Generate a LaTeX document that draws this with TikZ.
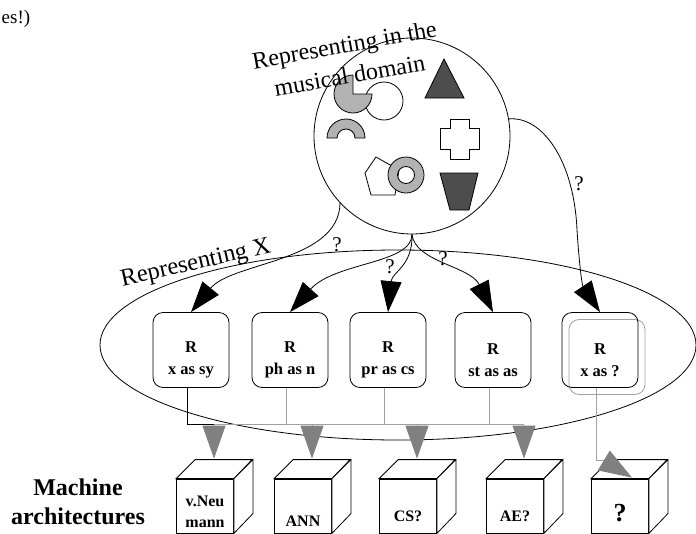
\documentclass[tikz,border=0pt]{standalone}
\usepackage{fontspec}
\setmainfont{Liberation Serif}
\usetikzlibrary{arrows.meta,positioning,calc}
\definecolor{ShapeGrey}{RGB}{178,178,178}
\definecolor{ShapeDark}{RGB}{77,77,77}
\definecolor{WireGrey}{RGB}{160,160,160}
\definecolor{HeadGrey}{RGB}{128,128,128}

\begin{document}
\begin{tikzpicture}[x=1pt, y=-1pt, line width=0.8pt,
    repbox/.style={draw, rounded corners=10pt, minimum width=76pt, minimum height=75pt},
    reptext/.style={font=\fontsize{16.5}{22}\selectfont\bfseries, align=center},
    machine/.style={draw, fill=white, minimum width=57pt, minimum height=54pt, inner sep=0pt},
    cubetext/.style={font=\fontsize{16}{21}\selectfont\bfseries, align=center},
    ask/.style={-{Triangle[length=31pt,width=21pt]}},
    wire/.style={draw=WireGrey},
    feed/.style={draw=WireGrey, -{Triangle[length=33pt,width=23pt,color=HeadGrey]}},
    quest/.style={font=\fontsize{21}{21}\selectfont}]
    \useasboundingbox (0,0) rectangle (696,533);
    \clip (0,0) rectangle (696,533);

    \node[anchor=west, font=\fontsize{19}{20}\selectfont] (note) at (-2,19) {es!)};

    % musical domain
    \node[draw, circle, minimum size=196pt, inner sep=0pt] (dom) at (412,136) {};
    \draw[fill=white] (384,101) circle [radius=19];
    \draw[fill=ShapeGrey] (353,94) -- (372,94) arc[start angle=0, end angle=270, radius=19] -- cycle;
    \draw[fill=ShapeGrey] (327,138) arc[start angle=180, end angle=360, radius=19] -- (355,138)
      arc[start angle=0, end angle=-180, radius=9] -- cycle;
    \draw[fill=ShapeDark] (425,98) -- (464,98) -- (444,59) -- cycle;
    \draw[fill=white] (450,119) -- (469,119) -- (469,128) -- (479,128) -- (479,149) -- (469,149)
      -- (469,159) -- (450,159) -- (450,149) -- (440,149) -- (440,128) -- (450,128) -- cycle;
    \draw[fill=white] (376,157) -- (399,170) -- (395,195) -- (371,195) -- (365,173) -- cycle;
    \draw[fill=ShapeGrey, even odd rule] (406,175) circle [radius=18] (406,175) circle [radius=8.5];
    \draw[fill=ShapeDark] (440,173) -- (478,173) -- (469,210) -- (450,210) -- cycle;
    \node[rotate=10, align=center, font=\fontsize{24}{31}\selectfont] (domlabel) at (347,60)
      {Representing in the\\musical domain};

    % representing X
    \draw (398,345) ellipse [x radius=298, y radius=95];
    \node[rotate=13, font=\fontsize{24.5}{26}\selectfont] (xlabel) at (196,264) {Representing X};

    \node[repbox, draw=WireGrey] (r5s) at (607,357) {};
    \foreach \n/\x/\t in {1/191/x as sy,2/290/ph as n,3/388/pr as cs,4/493/st as as,5/600/x as ?} {
      \node[repbox] (r\n) at (\x,350) {};
      \node[reptext] (rt\n) at (\x,360) {R\\\t};
    }

    % questions from the domain
    \draw[ask] (dom.223) .. controls (339,262) and (232,262) .. (r1.north);
    \draw[ask] (dom.south) .. controls (412,264) and (335,262) .. (r2.north);
    \draw[ask] (dom.south) .. controls (413,266) and (392,272) .. (r3.north);
    \draw[ask] (dom.south) .. controls (415,262) and (470,266) .. (r4.north);
    \draw[ask] (dom.10) .. controls (542,116) and (574,160) .. (577,230)
      .. controls (579,262) and (582,285) .. (r5.north);
    \node[quest] (q1) at (337,245) {?};
    \node[quest] (q2) at (390,267) {?};
    \node[quest] (q3) at (443,259) {?};
    \node[quest] (q4) at (579,184) {?};

    % machine architectures
    \node[align=center, font=\fontsize{24}{29}\selectfont\bfseries] (arch) at (78,502)
      {Machine\\architectures};
    \foreach \n/\x in {1/205,2/303,3/408,4/515,5/620} {
      \node[machine] (c\n) at (\x,506) {};
      \draw[fill=white] (c\n.north west) -- ++(19,-19) -- ++(57,0) -- (c\n.north east) -- cycle;
      \draw[fill=white] (c\n.north east) -- ++(19,-19) -- ++(0,54) -- (c\n.south east) -- cycle;
      \coordinate (t\n) at ($(c\n.north)+(9,-20)$);
      \coordinate (j\n) at ($(t\n)+(0,-34)$);
    }
    \node[cubetext] (m1) at (205,512) {v.Neu\\mann};
    \node[cubetext] (m2) at (303,521) {ANN};
    \node[cubetext] (m3) at (408,516) {CS?};
    \node[cubetext] (m4) at (515,516) {AE?};
    \node[font=\fontsize{26}{26}\selectfont\bfseries] (m5) at (620,513) {?};

    % wiring to the machines
    \draw ([xshift=-4pt]r1.south) |- (j1);
    \foreach \a/\b in {2/1,3/2,4/3} {
      \draw[wire] ([xshift=-4pt]r\a.south) |- (j\b);
      \draw[wire] ([xshift=-4pt]r\a.south) |- (j\a);
    }
    \foreach \n in {1,...,4} {
      \draw[feed] (j\n) -- (t\n);
    }
    \coordinate (k5) at (603,460);
    \coordinate (tip5) at ($(c5.north)+(12,-1)$);
    \draw[wire] ([xshift=-4pt]r5.south) |- (k5);
    \draw[feed] (k5) -- (tip5);
\end{tikzpicture}
\end{document}
